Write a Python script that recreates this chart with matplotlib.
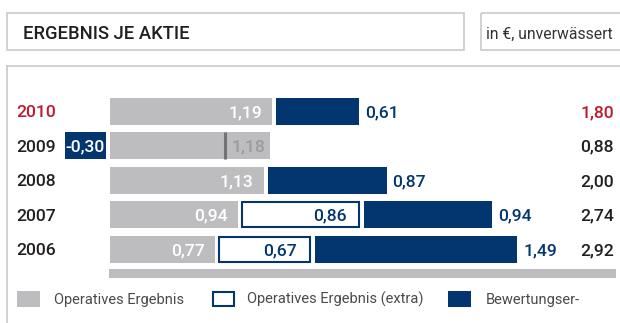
import matplotlib
matplotlib.use("Agg")
import matplotlib.pyplot as plt
from matplotlib.patches import Rectangle
from matplotlib.transforms import Affine2D
from matplotlib.lines import Line2D

plt.rcParams['font.family'] = ['Roboto', 'DejaVu Sans']

# --- data -------------------------------------------------------------
years = ["2010", "2009", "2008", "2007", "2006"]
operativ = [1.19, 1.18, 1.13, 0.94, 0.77]          # Operatives Ergebnis
operativ_extra = [0.0, 0.0, 0.0, 0.86, 0.67]       # Operatives Ergebnis (extra)
bewertung = [0.61, -0.30, 0.87, 0.94, 1.49]        # Bewertungsergebnis
totals = [1.80, 0.88, 2.00, 2.74, 2.92]
legend_labels = ["Operatives Ergebnis", "Operatives Ergebnis (extra)", "Bewertungser-"]

title = "ERGEBNIS JE AKTIE"
subtitle = "in €, unverwässert"

# --- style ------------------------------------------------------------
GREY = "#bdbdbf"
BLUE = "#03366f"
RED = "#c0182d"
DARK = "#231f20"
FRAME = "#c9c9c9"
LEG_TXT = "#4a4a4a"

W, H = 620, 323
fig = plt.figure(figsize=(W / 100, H / 100), dpi=100)
fig.patch.set_facecolor("white")

# pixel coordinates (origin top-left) for the frame decorations
px = Affine2D().scale(1 / W, -1 / H).translate(0, 1) + fig.transFigure

# bar axes spans the whole figure; the scale maps 0 € to x=110px, 136 px per €
ax = fig.add_axes([0, 0, 1, 1])
ax.axis("off")
scale = 136.0
x0 = 110.0
ax.set_xlim(-x0 / scale, (W - x0) / scale)
row_top, row_step = 111.3, 34.5
ax.set_ylim((H - row_top) / row_step, -row_top / row_step)

gap = 4.5 / scale
bar_h = 26.7 / row_step
FS = 12.6
WT = "medium"


def fmt(v):
    return f"{v:.2f}".replace(".", ",")


# --- frames -----------------------------------------------------------
fig.add_artist(Rectangle((7, 13), 457, 37, transform=px, fill=False,
                         edgecolor=FRAME, lw=1.2))
fig.add_artist(Rectangle((481, 13), 160, 37, transform=px, fill=False,
                         edgecolor=FRAME, lw=1.2))
fig.add_artist(Line2D([7, W + 5], [66.3, 66.3], transform=px, color=FRAME, lw=1.2))
fig.add_artist(Line2D([7, 7], [66.3, H + 5], transform=px, color=FRAME, lw=1.2))

fig.text(23 / W, 1 - 39.3 / H, title, fontsize=13.2, weight=WT, color=DARK,
         va="baseline")
fig.text(486 / W, 1 - 39.3 / H, subtitle, fontsize=11.3, color="#333333",
         va="baseline")

# --- bars -------------------------------------------------------------
for i, year in enumerate(years):
    op = operativ[i]
    ex = operativ_extra[i]
    bw = bewertung[i]
    ycol = RED if i == 0 else DARK

    ax.barh(i, op, left=0, height=bar_h, color=GREY, lw=0)
    right = op
    if ex > 0:
        ex_left = op + gap
        ax.barh(i, ex, left=ex_left, height=bar_h * 0.93, facecolor="white",
                edgecolor=BLUE, lw=1.5)
        right = ex_left + ex
        ax.annotate(fmt(ex), (right, i),
                    xytext=(-13, -6), textcoords="offset pixels",
                    ha="right", va="baseline", fontsize=FS, weight=WT, color=BLUE)

    if bw >= 0:
        bw_left = right + gap
        ax.barh(i, bw, left=bw_left, height=bar_h, color=BLUE, lw=0)
        ax.annotate(fmt(bw), (bw_left + bw, i),
                    xytext=(6, -6), textcoords="offset pixels",
                    ha="left", va="baseline", fontsize=FS, weight=WT, color=BLUE)
        ax.annotate(fmt(op), (op, i),
                    xytext=(-10, -6), textcoords="offset pixels",
                    ha="right", va="baseline", fontsize=FS, weight=WT, color="white")
    else:
        ax.barh(i, bw, left=-gap, height=bar_h, color=BLUE, lw=0)
        ax.annotate(fmt(bw), (-gap + bw / 2, i), xytext=(0, -6),
                    textcoords="offset pixels", ha="center", va="baseline",
                    fontsize=FS, weight=WT, color="white")
        # net result marker inside the grey bar
        net = totals[i] - gap
        ax.plot([net, net], [i - bar_h / 2, i + bar_h / 2], color="#727272",
                lw=2.2, solid_capstyle="butt")
        ax.annotate(fmt(op), (net, i),
                    xytext=(6.5, -6), textcoords="offset pixels",
                    ha="left", va="baseline", fontsize=FS, weight=WT, color="#9c9c9c")

    ax.annotate(year, (16 / W, i), xycoords=("figure fraction", "data"),
                xytext=(0, -6), textcoords="offset pixels",
                ha="left", va="baseline", fontsize=FS, weight=WT, color=ycol)
    ax.annotate(fmt(totals[i]), (614 / W, i),
                xycoords=("figure fraction", "data"),
                xytext=(0, -6), textcoords="offset pixels",
                ha="right", va="baseline", fontsize=FS, weight=WT, color=ycol)

# baseline strip under the bars
fig.add_artist(Rectangle((109, 269), 506.7, 8.7, transform=px, color=GREY, lw=0))

# --- legend -----------------------------------------------------------
fig.add_artist(Rectangle((16.7, 291), 23.3, 15.7, transform=px, color=GREY, lw=0))
fig.add_artist(Rectangle((213, 292), 21, 13.7, transform=px, facecolor="white",
                         edgecolor=BLUE, lw=1.5))
fig.add_artist(Rectangle((448, 291), 22.7, 15.7, transform=px, color=BLUE, lw=0))
for xpos, lab in zip([54.3, 246.7, 485.7], legend_labels):
    fig.text(xpos / W, 1 - 304 / H, lab, fontsize=10.5, color=LEG_TXT, va="baseline")

fig.savefig("out.png", dpi=100, facecolor="white")
